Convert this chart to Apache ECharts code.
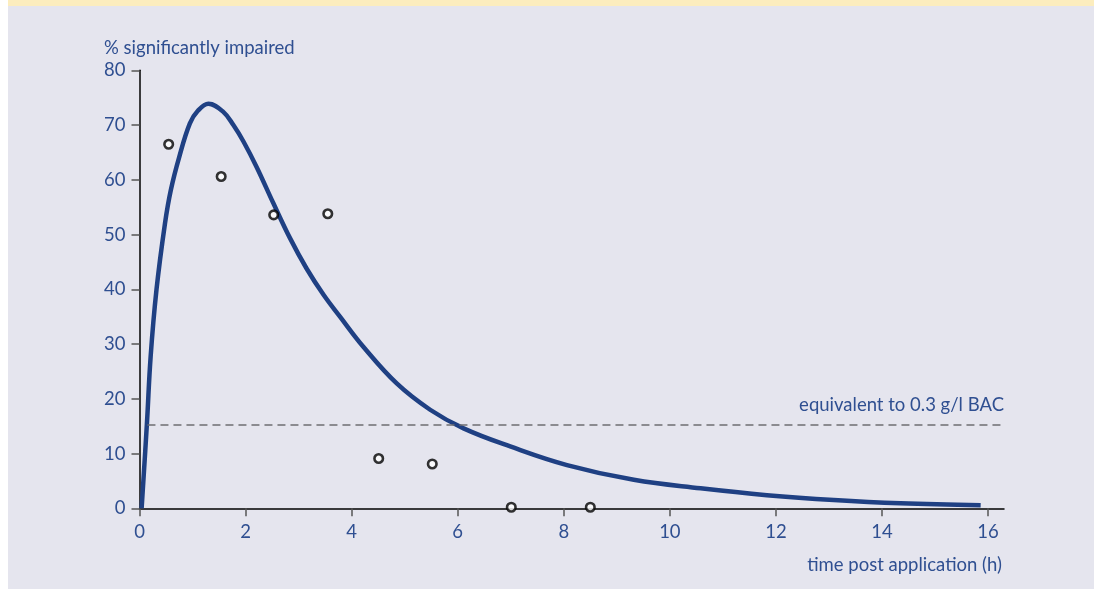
<!DOCTYPE html>
<html>
<head>
<meta charset="utf-8">
<script src="https://cdn.jsdelivr.net/npm/echarts@6/dist/echarts.min.js"></script>
<style>
  html, body { margin: 0; padding: 0; background: #ffffff; }
  #wrap { position: absolute; left: 8px; top: 0; width: 1086px; height: 589px; background: #e5e5ee; }
  #strip { position: absolute; left: 0; top: 0; width: 1086px; height: 6px; background: #fcedbe; }
  #chart { position: absolute; left: 0; top: 0; width: 1094px; height: 589px; }
</style>
</head>
<body>
<div id="wrap"><div id="strip"></div></div>
<div id="chart"></div>
<script>
// Fitted curve: time (h) and % significantly impaired
const curveT = [0.04, 0.14, 0.21, 0.32, 0.48, 0.59, 0.75, 0.95, 1.10, 1.30, 1.58, 1.77, 1.96, 2.21, 2.52, 2.84, 3.15, 3.47, 3.78, 4.22, 4.85, 5.48, 6.11, 6.99, 8.06, 9.32, 10.58, 11.83, 13.09, 14.35, 15.86];
const curveV = [0.0, 15.5, 27.7, 39.9, 52.0, 58.1, 64.2, 70.3, 72.6, 73.9, 72.4, 70.0, 67.0, 62.3, 55.8, 49.3, 43.8, 39.0, 35.0, 29.5, 22.8, 18.0, 14.6, 11.3, 7.9, 5.2, 3.65, 2.4, 1.5, 0.9, 0.55];
// Observed points
const obsT = [0.55, 1.54, 2.53, 3.55, 4.51, 5.52, 7.01, 8.5];
const obsV = [66.5, 60.6, 53.6, 53.8, 9.1, 8.1, 0.2, 0.2];
// Reference threshold
const refLevel = 15.2;
const refStart = 0.15;
const refEnd = 16.3;
const refLabel = 'equivalent to 0.3 g/l BAC';
const xTicks = [0, 2, 4, 6, 8, 10, 12, 14, 16];
const yName = '% significantly impaired';
const xName = 'time post application (h)';

const textColor = '#2f4f91';
const lineColor = '#1f4083';
const font = 'Lato, "Noto Sans", sans-serif';
const fs = 18.5;

const chart = echarts.init(document.getElementById('chart'));
chart.setOption({
  backgroundColor: 'transparent',
  animation: false,
  title: [
    { text: yName, left: 99, top: 34, textStyle: { color: textColor, fontSize: fs, fontWeight: 'normal', fontFamily: font } },
    { text: xName, right: 87, top: 551, textStyle: { color: textColor, fontSize: fs, fontWeight: 'normal', fontFamily: font } }
  ],
  grid: { left: 139.5, right: 90, top: 70.3, bottom: 80.7 },
  xAxis: {
    type: 'value', min: 0, max: 16.3,
    splitLine: { show: false },
    axisLine: { lineStyle: { color: '#000', width: 1.5 } },
    axisTick: { show: true, length: 8, lineStyle: { color: '#555', width: 1.5 }, customValues: xTicks },
    axisLabel: { color: textColor, fontSize: fs, fontFamily: font, margin: 14, customValues: xTicks }
  },
  yAxis: {
    type: 'value', min: 0, max: 80, interval: 10,
    splitLine: { show: false },
    axisLine: { show: true, lineStyle: { color: '#000', width: 1.5 } },
    axisTick: { show: true, length: 8, lineStyle: { color: '#555', width: 1.5 } },
    axisLabel: { color: textColor, fontSize: fs, fontFamily: font, margin: 14 }
  },
  series: [
    {
      type: 'line',
      data: curveT.map((t, i) => [t, curveV[i]]),
      smooth: 0.4,
      showSymbol: false,
      lineStyle: { color: lineColor, width: 4.5 },
      z: 3
    },
    {
      type: 'scatter',
      data: obsT.map((t, i) => [t, obsV[i]]),
      symbol: 'circle',
      symbolSize: 8.5,
      itemStyle: { color: '#ffffff', borderColor: '#000000', borderWidth: 2.6 },
      z: 4,
      markLine: {
        silent: true,
        symbol: ['none', 'none'],
        lineStyle: { color: '#6e6e72', type: [8, 5], width: 1.6 },
        label: {
          show: true, position: 'insideEndTop', formatter: refLabel,
          color: textColor, fontSize: fs, fontFamily: font, distance: [0, 11]
        },
        data: [[{ coord: [refStart, refLevel] }, { coord: [refEnd, refLevel] }]]
      }
    }
  ]
});
</script>
</body>
</html>
